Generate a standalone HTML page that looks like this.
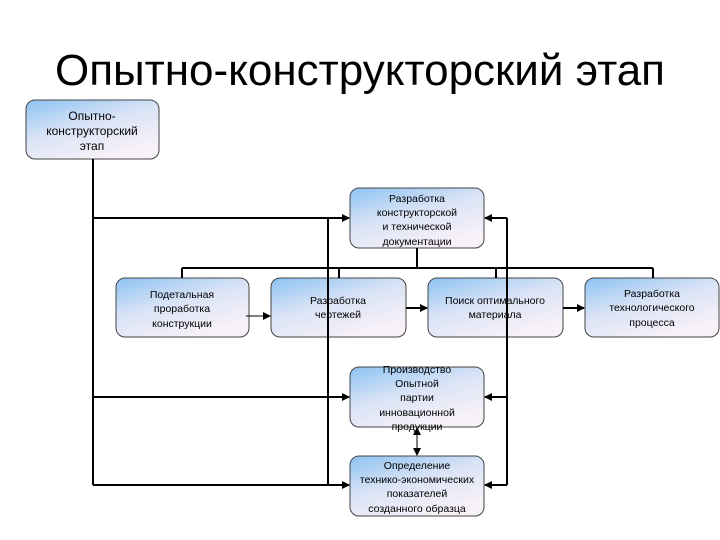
<!DOCTYPE html>
<html><head><meta charset="utf-8"><style>
html,body{margin:0;padding:0;background:#fff;}
svg{display:block;}
text{font-family:"Liberation Sans",Arial,sans-serif;fill:#000;}
.t{font-size:10.5px;text-anchor:middle;}
</style></head><body>
<svg width="720" height="540" viewBox="0 0 720 540" xmlns="http://www.w3.org/2000/svg">
<defs>
<linearGradient id="g" x1="0" y1="0" x2="0.6" y2="1">
<stop offset="0" stop-color="#8cc2f2"/>
<stop offset="0.5" stop-color="#d9e3f6"/>
<stop offset="1" stop-color="#f8f1f8"/>
</linearGradient>
<marker id="a" markerWidth="8" markerHeight="8" refX="7" refY="4" orient="auto" markerUnits="userSpaceOnUse">
<path d="M0,0 L8,4 L0,8 z" fill="#000"/>
</marker>
</defs>
<text x="360" y="85" font-size="44" text-anchor="middle" textLength="610" lengthAdjust="spacingAndGlyphs">Опытно-конструкторский этап</text>

<g stroke="#444" stroke-width="1" fill="url(#g)">
<rect x="26" y="100" width="133" height="59" rx="9"/>
<rect x="350" y="188" width="134" height="60" rx="9"/>
<rect x="116" y="278" width="133" height="59" rx="9"/>
<rect x="271" y="278" width="135" height="59" rx="9"/>
<rect x="428" y="278" width="135" height="59" rx="9"/>
<rect x="585" y="278" width="134" height="59" rx="9"/>
<rect x="350" y="367" width="134" height="60" rx="9"/>
<rect x="350" y="456" width="134" height="60" rx="9"/>
</g>

<g stroke="#000" stroke-width="2" fill="none">
<path d="M93,159 V485"/>
<path d="M93,218 H349" marker-end="url(#a)"/>
<path d="M93,397 H349" marker-end="url(#a)"/>
<path d="M93,485 H349" marker-end="url(#a)"/>
<path d="M328,218 V485"/>
<path d="M507,218 V485"/>
<path d="M507,218 H485" marker-end="url(#a)"/>
<path d="M507,397 H485" marker-end="url(#a)"/>
<path d="M507,485 H485" marker-end="url(#a)"/>
<path d="M417,248 V268 M182,268 H653 M182,268 V278 M339,268 V278 M496,268 V278 M653,268 V278"/>
<path d="M406,308 H427" marker-end="url(#a)"/>
<path d="M563,308 H584" marker-end="url(#a)"/>
</g>
<g stroke="#000" stroke-width="1" fill="none">
<path d="M246,316 H270" marker-end="url(#a)"/>
<path d="M417,440 V455" marker-end="url(#a)"/>
<path d="M417,440 V428" marker-end="url(#a)"/>
</g>

<g class="t">
<text x="92" y="120" font-size="12" text-anchor="middle">Опытно-</text>
<text x="92" y="135" font-size="12" text-anchor="middle">конструкторский</text>
<text x="92" y="150" font-size="12" text-anchor="middle">этап</text>

<text class="t" x="417" y="202">Разработка</text>
<text class="t" x="417" y="216">конструкторской</text>
<text class="t" x="417" y="230">и технической</text>
<text class="t" x="417" y="245">документации</text>

<text class="t" x="182" y="298">Подетальная</text>
<text class="t" x="182" y="312">проработка</text>
<text class="t" x="182" y="327">конструкции</text>

<text class="t" x="338" y="304">Разработка</text>
<text class="t" x="338" y="318">чертежей</text>

<text class="t" x="495" y="304">Поиск оптимального</text>
<text class="t" x="495" y="318">материала</text>

<text class="t" x="652" y="297">Разработка</text>
<text class="t" x="652" y="311">технологического</text>
<text class="t" x="652" y="326">процесса</text>

<text class="t" x="417" y="373">Производство</text>
<text class="t" x="417" y="387">Опытной</text>
<text class="t" x="417" y="401">партии</text>
<text class="t" x="417" y="416">инновационной</text>
<text class="t" x="417" y="430">продукции</text>

<text class="t" x="417" y="469">Определение</text>
<text class="t" x="417" y="483">технико-экономических</text>
<text class="t" x="417" y="497">показателей</text>
<text class="t" x="417" y="512">созданного образца</text>
</g>
</svg>
</body></html>
